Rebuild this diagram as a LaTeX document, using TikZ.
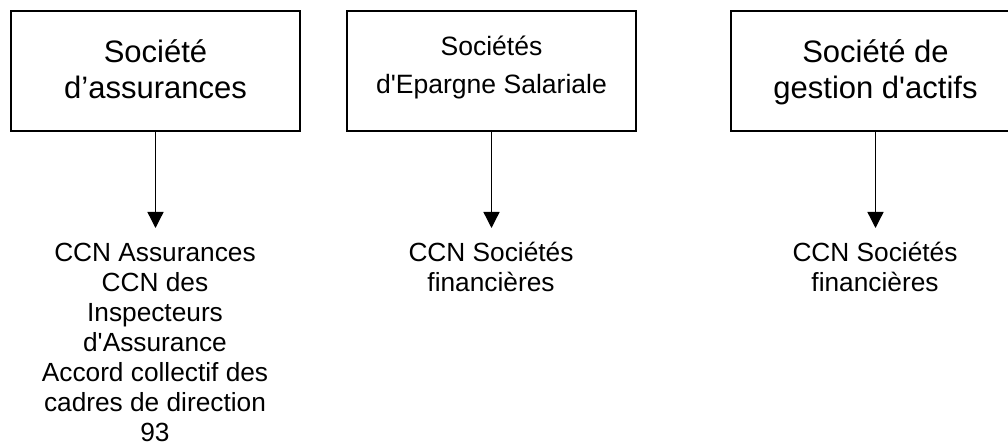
\documentclass[tikz,border=0pt]{standalone}
\usepackage{fontspec}
\setmainfont{Liberation Sans}[Ligatures=TeXOff]
\usetikzlibrary{arrows.meta}
\begin{document}
\begin{tikzpicture}[x=0.75pt,y=-0.75pt,
  box/.style={draw,line width=1.1pt,minimum width=216.75pt,minimum height=90pt,inner sep=0pt,align=center},
  bigtext/.style={font=\fontsize{23.25}{27}\selectfont},
  midtext/.style={font=\fontsize{19.9}{28.5}\selectfont},
  lowtext/.style={font=\fontsize{19.7}{22.5}\selectfont,inner sep=0pt,anchor=base},
  link/.style={line width=1pt,-{Triangle[width=12pt,length=12pt]}}
]
\clip (0,0) rectangle (1008,445);
\useasboundingbox (0,0) rectangle (1008,445);
\node[box,bigtext] (b1) at (155.5,71) {\raisebox{-1.4pt}[\height][\depth]{\begin{tabular}{@{}c@{}}Société\\d’assurances\end{tabular}}};
\node[box,midtext] (b2) at (491.5,71) {\raisebox{3.4pt}[\height][\depth]{\begin{tabular}{@{}c@{}}Sociétés\\d'Epargne Salariale\end{tabular}}};
\node[box,bigtext] (b3) at (875.5,71) {\raisebox{-1.4pt}[\height][\depth]{\begin{tabular}{@{}c@{}}Société de\\gestion d'actifs\end{tabular}}};
\coordinate (e1) at (155.5,228);
\coordinate (e2) at (491.5,228);
\coordinate (e3) at (875.5,228);
\draw[link] (b1.south) -- (e1);
\draw[link] (b2.south) -- (e2);
\draw[link] (b3.south) -- (e3);
\node[lowtext] (c1) at (155,262) {\begin{tabular}[t]{@{}c@{}}CCN Assurances\\CCN des\\Inspecteurs\\d'Assurance\\Accord collectif des\\cadres de direction\\93\end{tabular}};
\node[lowtext] (c2) at (491,262) {\begin{tabular}[t]{@{}c@{}}CCN Sociétés\\financières\end{tabular}};
\node[lowtext] (c3) at (875,262) {\begin{tabular}[t]{@{}c@{}}CCN Sociétés\\financières\end{tabular}};
\end{tikzpicture}
\end{document}
